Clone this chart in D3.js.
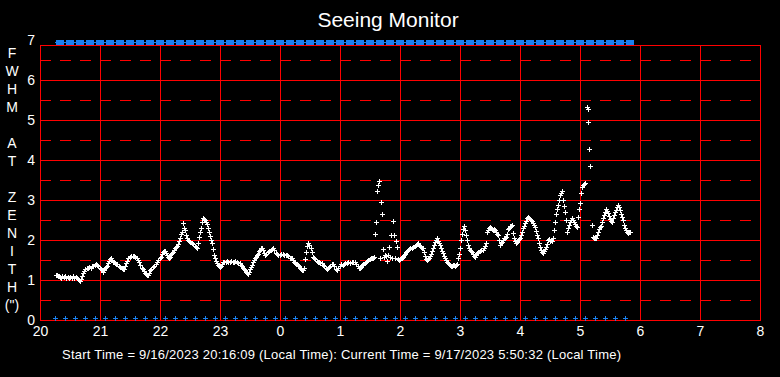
<!DOCTYPE html>
<html>
<head>
<meta charset="utf-8">
<script src="https://cdn.jsdelivr.net/npm/d3@7"></script>
<style>
  html, body { margin: 0; padding: 0; background: #000; }
  svg { display: block; font-family: "Liberation Sans", Arial, sans-serif; }
</style>
</head>
<body>
<div id="seeing"></div>
<script>
// [minutes after 20:00 local time, FWHM at zenith (arcsec)]
const seeingSamples = [
  [16,1.13],[17,1.12],[18,1.10],[19,1.11],[20,1.08],[21,1.06],[22,1.09],[24,1.07],[25,1.10],[26,1.06],[28,1.08],[29,1.05],[30,1.07],[32,1.06],[33,1.09],[34,1.04],[36,1.07],[37,1.04],[38,1.02],[39,1.00],[40,0.98],[41,1.02],[42,1.10],[43,1.17],[44,1.22],[45,1.27],[47,1.31],[48,1.29],[49,1.33],[51,1.31],[52,1.34],[53,1.36],[55,1.38],[56,1.40],[57,1.37],[58,1.35],[60,1.31],
  [61,1.27],[62,1.24],[63,1.21],[64,1.25],[65,1.29],[66,1.33],[67,1.36],[68,1.42],[69,1.48],[70,1.52],[71,1.54],[72,1.50],[73,1.46],[74,1.44],[75,1.42],[76,1.40],[77,1.39],[79,1.36],[80,1.33],[82,1.30],[83,1.27],[84,1.28],[85,1.35],[86,1.42],[87,1.48],[88,1.54],[90,1.57],[91,1.60],[93,1.61],[94,1.59],[95,1.58],[97,1.56],[98,1.50],[99,1.44],[100,1.38],[102,1.30],[103,1.28],[104,1.22],[105,1.17],[106,1.15],[107,1.13],[108,1.12],[109,1.18],[110,1.25],[111,1.28],[113,1.33],[114,1.35],[116,1.39],[117,1.45],[118,1.50],[120,1.55],[121,1.58],
  [122,1.65],[123,1.70],[124,1.73],[125,1.72],[126,1.68],[127,1.62],[128,1.58],[129,1.56],[130,1.58],[131,1.64],[132,1.68],[133,1.71],[134,1.76],[135,1.80],[136,1.82],[137,1.84],[138,1.90],[139,1.98],[140,2.04],[141,2.15],[142,2.21],[143,2.42],[144,2.30],[145,2.25],[146,2.12],[147,2.04],[148,2.00],[149,1.98],[150,1.95],[152,1.92],[153,1.90],[155,1.85],[156,1.82],[157,1.79],[158,1.92],[159,2.08],[160,2.20],[161,2.29],[162,2.45],[163,2.56],[164,2.52],[165,2.50],[166,2.46],[167,2.40],[168,2.30],[169,2.21],[170,2.10],[171,2.00],[172,1.92],[173,1.78],[174,1.63],[175,1.55],[176,1.48],[177,1.42],[178,1.38],[179,1.35],[180,1.33],
  [181,1.35],[182,1.40],[183,1.44],[184,1.46],[186,1.45],[187,1.47],[188,1.44],[190,1.46],[191,1.48],[193,1.46],[194,1.44],[195,1.47],[197,1.45],[198,1.43],[200,1.42],[201,1.38],[202,1.34],[203,1.30],[204,1.27],[205,1.25],[206,1.20],[207,1.17],[208,1.14],[209,1.20],[210,1.27],[211,1.33],[212,1.38],[213,1.44],[214,1.50],[215,1.54],[216,1.58],[217,1.62],[218,1.66],[219,1.72],[220,1.76],[221,1.79],[222,1.80],[223,1.75],[224,1.68],[225,1.63],[226,1.66],[228,1.70],[229,1.72],[231,1.76],[232,1.78],[233,1.79],[234,1.75],[236,1.68],[237,1.65],[238,1.63],[240,1.62],[241,1.64],[243,1.65],[244,1.62],[246,1.63],[247,1.63],[248,1.60],[250,1.56],[251,1.55],[252,1.54],[253,1.50],[254,1.46],[255,1.43],[256,1.40],[257,1.39],[258,1.38],[259,1.34],[260,1.31],[261,1.28],[262,1.26],[263,1.25],[264,1.30],[265,1.52],[266,1.71],[267,1.85],[268,1.92],[269,1.88],[271,1.81],[272,1.70],[273,1.58],[274,1.55],[275,1.52],[277,1.48],[278,1.46],[279,1.44],[280,1.43],[282,1.42],[283,1.38],[284,1.35],[286,1.30],[287,1.28],[288,1.30],[289,1.33],[290,1.36],[292,1.40],[293,1.39],[294,1.35],[296,1.28],[297,1.25],[298,1.30],[300,1.36],
  [301,1.40],[303,1.38],[304,1.40],[305,1.42],[307,1.43],[308,1.45],[310,1.42],[312,1.44],[313,1.46],[315,1.46],[316,1.40],[318,1.35],[319,1.31],[320,1.29],[321,1.33],[322,1.38],[323,1.40],[325,1.42],[326,1.45],[327,1.48],[328,1.50],[330,1.52],[331,1.54],[332,1.55],[333,1.56],
  [334,1.57],[335,2.15],[336,2.44],[337,3.23],[338,3.38],[339,3.48],[340,1.55],[341,2.94],[342,2.64],[343,1.78],[344,1.58],[345,1.63],[346,1.60],[347,1.48],[348,1.62],[349,1.82],[350,1.58],[351,2.13],[352,1.55],[353,2.48],[354,2.13],[355,1.55],[356,1.98],[357,1.82],
  [358,1.52],[359,1.50],[360,1.53],[361,1.55],[362,1.54],[363,1.57],[364,1.62],[365,1.66],[366,1.70],[367,1.73],[368,1.75],[369,1.77],[370,1.79],[372,1.81],[373,1.83],[375,1.85],[376,1.88],[377,1.90],[378,1.93],[379,1.88],[380,1.84],[381,1.82],[382,1.80],[383,1.79],[384,1.70],[385,1.60],[386,1.53],[387,1.50],[388,1.52],[389,1.56],[390,1.60],[391,1.66],[392,1.72],[393,1.79],[394,1.88],[395,1.95],[396,2.00],[397,2.04],[398,1.98],[399,1.92],[400,1.88],[401,1.80],[402,1.72],[403,1.67],[404,1.60],[405,1.55],[406,1.50],[407,1.46],[408,1.42],[409,1.40],[410,1.38],[411,1.36],[412,1.35],[413,1.37],[414,1.38],[415,1.36],[416,1.38],[417,1.39],[418,1.54],[419,1.65],[420,1.79],
  [421,2.00],[422,2.15],[423,2.27],[424,2.35],[425,2.25],[426,2.13],[427,2.00],[428,1.88],[429,1.80],[430,1.75],[431,1.73],[432,1.71],[433,1.65],[434,1.60],[435,1.57],[436,1.62],[437,1.68],[438,1.71],[440,1.73],[441,1.75],[443,1.75],[444,1.80],[445,1.86],[446,1.92],[447,2.21],[448,2.25],[449,2.30],[450,2.33],[451,2.30],[452,2.28],[453,2.25],[454,2.27],[455,2.25],[456,2.20],[457,2.15],[458,2.13],[459,2.00],[460,1.88],[461,1.92],[462,1.96],[463,2.00],[464,2.04],[465,2.06],[466,2.08],[467,2.15],[468,2.27],[469,2.30],[470,2.34],[471,2.36],[472,2.38],[473,2.18],[474,2.05],[475,1.98],[476,1.92],[477,1.95],[478,2.00],[479,2.02],[480,2.04],[481,2.12],[482,2.20],[483,2.29],[484,2.35],[485,2.42],[486,2.48],[487,2.54],[488,2.58],[489,2.56],[490,2.52],[491,2.50],[492,2.47],[493,2.42],[494,2.38],[495,2.33],[496,2.22],[497,2.12],[498,2.04],[499,1.92],[500,1.82],
  [501,1.75],[502,1.70],[503,1.67],[504,1.72],[505,1.78],[506,1.83],[507,1.90],[508,2.00],[509,2.02],[510,1.98],[511,2.00],[512,1.98],[513,2.05],[514,2.25],[515,2.46],[516,2.65],[517,2.78],[518,2.88],[519,3.00],[520,3.13],[521,3.18],[522,3.23],[523,3.00],[524,2.85],[525,2.71],[526,2.50],[527,2.21],[528,2.30],[529,2.38],[530,2.45],[531,2.50],[532,2.54],[533,2.50],[534,2.46],[535,2.40],[536,2.36],[537,2.33],[538,2.58],[539,2.77],[540,2.92],[541,3.17],[542,3.33],[543,3.38],[544,3.40],[545,3.42],[547,5.32],[548,5.27],[548,4.94],[549,4.27],[550,3.84],
  [552,2.38],[553,2.08],[554,2.06],[555,2.05],[556,2.04],[557,2.12],[558,2.21],[559,2.28],[560,2.32],[561,2.35],[562,2.45],[563,2.54],[564,2.62],[565,2.70],[566,2.78],[567,2.72],[568,2.67],[569,2.60],[570,2.52],[571,2.48],[572,2.46],[573,2.55],[574,2.63],[575,2.70],[576,2.76],[577,2.82],[578,2.88],[579,2.82],[580,2.75],[581,2.66],[582,2.58],[583,2.50],[584,2.38],[585,2.30],[586,2.25],[587,2.21],[588,2.18],[589,2.20],[590,2.21]
];
// 10 minute status flags (drawn at the bottom and as the top band)
const flagMinutes = [15,25,35,45,55,65,75,85,95,105,115,125,135,145,155,165,175,185,195,205,215,225,235,245,255,265,275,285,295,305,315,325,335,345,355,365,375,385,395,405,415,425,435,445,455,465,475,485,495,505,515,525,535,545,555,565,575,585];
const hourTicks = [20,21,22,23,24,25,26,27,28,29,30,31,32];
const fwhmTicks = [0,1,2,3,4,5,6,7];
const axisLetters = ["F","W","H","M","","A","T","","Z","E","N","I","T","H","(\")"];
const title = "Seeing Monitor";
const footer = "Start Time = 9/16/2023 20:16:09 (Local Time): Current Time = 9/17/2023 5:50:32 (Local Time)";

const width = 780, height = 377;
const plot = { left: 40, right: 760, top: 45, bottom: 320 };

const svg = d3.select("#seeing").append("svg")
  .attr("width", width)
  .attr("height", height);

svg.append("rect").attr("width", width).attr("height", height).attr("fill", "#000");

const x = d3.scaleLinear().domain([20, 32]).range([plot.left, plot.right]);
const y = d3.scaleLinear().domain([0, 7]).range([plot.bottom, 40]);
const xMin = m => x(20 + m / 60);

// grid
const grid = svg.append("g").attr("class", "grid").attr("shape-rendering", "crispEdges");
const halves = d3.range(0.5, 7, 0.5).filter(v => y(v) > plot.top);
grid.selectAll("line.h")
  .data(halves)
  .join("line")
  .attr("class", "h")
  .attr("x1", plot.left).attr("x2", plot.right)
  .attr("y1", d => Math.round(y(d)) + 0.5).attr("y2", d => Math.round(y(d)) + 0.5)
  .attr("stroke", "#ff0000")
  .attr("stroke-width", 1)
  .attr("stroke-dasharray", d => d % 1 === 0 ? null : "11,9");
grid.selectAll("line.v")
  .data(hourTicks)
  .join("line")
  .attr("class", "v")
  .attr("x1", d => Math.round(x(d)) + 0.5).attr("x2", d => Math.round(x(d)) + 0.5)
  .attr("y1", plot.top).attr("y2", plot.bottom)
  .attr("stroke", "#ff0000")
  .attr("stroke-width", 1);
grid.append("rect")
  .attr("x", plot.left + 0.5).attr("y", plot.top + 0.5)
  .attr("width", plot.right - plot.left).attr("height", plot.bottom - plot.top)
  .attr("fill", "none")
  .attr("stroke", "#ff0000");

// axes
const xAxis = svg.append("g")
  .attr("transform", `translate(0,${plot.bottom})`)
  .call(d3.axisBottom(x).tickValues(hourTicks).tickSize(0).tickPadding(6).tickFormat(d => d % 24));
xAxis.select(".domain").remove();
xAxis.selectAll("text").attr("fill", "#fff").attr("font-size", 14).attr("font-family", null);

const yAxis = svg.append("g")
  .attr("transform", `translate(${plot.left},0)`)
  .call(d3.axisLeft(y).tickValues(fwhmTicks).tickSize(0).tickPadding(5).tickFormat(d3.format("d")));
yAxis.select(".domain").remove();
yAxis.selectAll("text").attr("fill", "#fff").attr("font-size", 14).attr("font-family", null);

svg.append("g")
  .selectAll("text")
  .data(axisLetters)
  .join("text")
  .attr("x", 12)
  .attr("y", (d, i) => 53 + i * 18)
  .attr("dy", "0.35em")
  .attr("text-anchor", "middle")
  .attr("fill", "#fff")
  .attr("font-size", 14)
  .text(d => d);

svg.append("text")
  .attr("x", 388).attr("y", 27)
  .attr("text-anchor", "middle")
  .attr("fill", "#fff")
  .attr("font-size", 21)
  .text(title);

svg.append("text")
  .attr("x", 62).attr("y", 359)
  .attr("fill", "#fff")
  .attr("font-size", 13)
  .attr("textLength", 559)
  .attr("lengthAdjust", "spacing")
  .text(footer);

// flags
const blue = "#1a80f0";
svg.append("line")
  .attr("x1", xMin(flagMinutes[0])).attr("x2", xMin(flagMinutes[flagMinutes.length - 1]) + 8)
  .attr("y1", 42.5).attr("y2", 42.5)
  .attr("stroke", blue);
svg.append("g")
  .selectAll("rect")
  .data(flagMinutes)
  .join("rect")
  .attr("x", d => Math.round(xMin(d)) + 1)
  .attr("y", 40)
  .attr("width", 8)
  .attr("height", 5)
  .attr("fill", blue);

const cross = "M-2.5,0H2.5M0,-2.5V2.5";
svg.append("g")
  .selectAll("path")
  .data(flagMinutes)
  .join("path")
  .attr("transform", d => `translate(${Math.round(xMin(d)) + 0.5},${Math.round(y(0.05)) + 0.5})`)
  .attr("d", cross)
  .attr("stroke", blue)
  .attr("fill", "none");

// seeing measurements
svg.append("g")
  .selectAll("path")
  .data(seeingSamples)
  .join("path")
  .attr("transform", d => `translate(${Math.round(xMin(d[0])) + 0.5},${Math.round(y(d[1])) + 0.5})`)
  .attr("d", cross)
  .attr("stroke", "#fff")
  .attr("fill", "none");
</script>
</body>
</html>
